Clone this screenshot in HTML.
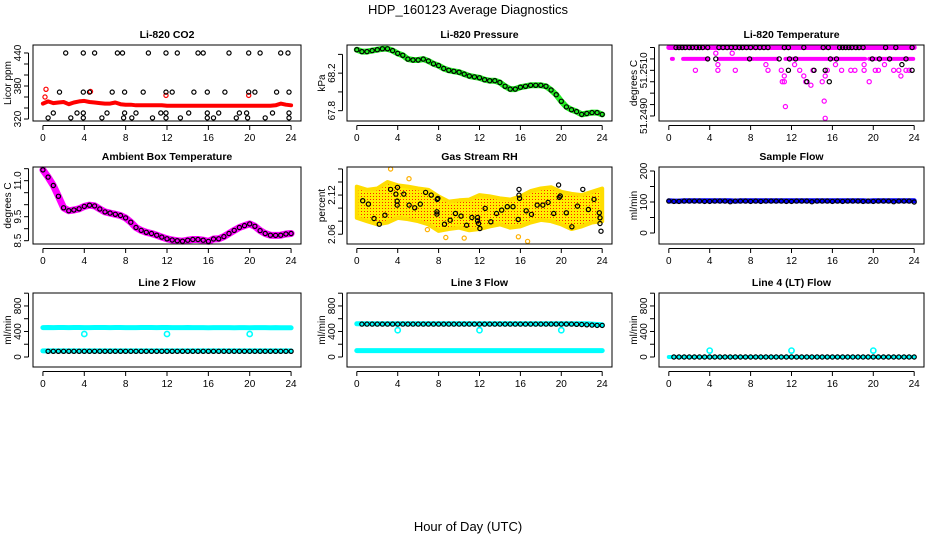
<!DOCTYPE html>
<html><head><meta charset="utf-8"><title>HDP_160123 Average Diagnostics</title>
<style>
html,body{margin:0;padding:0;background:#fff;}
svg{display:block;font-family:"Liberation Sans",Arial,sans-serif;}
</style></head>
<body>
<svg id="chart" width="936" height="540" viewBox="0 0 936 540" xmlns="http://www.w3.org/2000/svg">
<defs>
<pattern id="rhpat" width="3" height="3" patternUnits="userSpaceOnUse">
<rect width="3" height="3" fill="#ffee00"/><rect x="1" y="1" width="1" height="1" fill="#ff2000"/>
</pattern>
</defs>
<text x="468" y="14" text-anchor="middle" font-size="13">HDP_160123  Average Diagnostics</text>
<text x="468" y="531" text-anchor="middle" font-size="13">Hour of Day (UTC)</text>
</svg>
<script>
const hours49 = [0,0.5,1,1.5,2,2.5,3,3.5,4,4.5,5,5.5,6,6.5,7,7.5,8,8.5,9,9.5,10,10.5,11,11.5,12,12.5,13,13.5,14,14.5,15,15.5,16,16.5,17,17.5,18,18.5,19,19.5,20,20.5,21,21.5,22,22.5,23,23.5,24];
const hours25 = [0,1,2,3,4,5,6,7,8,9,10,11,12,13,14,15,16,17,18,19,20,21,22,23,24];
const xTicks = [0,4,8,12,16,20,24];

// CO2
const co2Red = [348,352,349,350,351,347,350,352,353,351,350,349,348,348,350,347,346,346,345,345,345,345,345,345,344,344,344,344,344,344,344,344,344,344,344,344,344,344,344,344,344,344,344,344,344,345,348,346,345];
const co2RedOutH = [0.3,0.2,11.9,19.9,4.6];
const co2RedOutV = [374,360,363,363,370];
const co2BlackH = [2.2,3.9,5,7.2,7.7,10.2,11.9,13,15,15.5,18,19.9,21,23,23.7, 1.6,3.9,4.5,6.7,7.9,9.7,11.9,12.5,14.6,15.9,17.6,19.9,20.5,22.6,23.8, 1,3.3,3.9,6.2,7.9,9,11.4,11.9,14.1,15.9,17,19,19.7,22.2,23.8, 0.5,2.7,3.9,5.7,7.8,8.6,10.6,11.9,13.3,15.9,16.5,18.7,19.8,21.5,23.8];
const co2BlackV = [440,440,440,440,440,440,440,440,440,440,440,440,440,440,440, 369,369,369,369,369,369,369,369,369,369,369,369,369,369,369, 331,331,331,331,331,331,331,331,331,331,331,331,331,331,331, 322,322,322,322,322,322,322,322,322,322,322,322,322,322,322];

// Pressure
const pressure = [68.45,68.43,68.43,68.44,68.45,68.46,68.46,68.44,68.41,68.39,68.35,68.34,68.34,68.35,68.33,68.30,68.28,68.25,68.23,68.22,68.21,68.19,68.17,68.16,68.15,68.13,68.12,68.12,68.10,68.06,68.03,68.03,68.05,68.06,68.07,68.07,68.07,68.06,68.02,67.97,67.90,67.84,67.81,67.79,67.76,67.77,67.78,67.78,67.76];

// Li-820 temperature
const tempBandTop = 51.2520;
const tempBandMid = 51.2515;
const tempMidSegStart = [0.3,1.4,4.9,8.5,11.4,15.8,19.6];
const tempMidSegEnd = [0.4,3.8,8.3,10.6,15.5,19.2,23.9];
const tempMagH = [4.6,6.2,4.8,4.8,2.6,6.5,9.7,9.5,11,11.3,11.1,11.3,11.4,12.3,12.8,13.2,13.4,13.9,14.1,15,15.2,15.3,15.3,15.5,16.3,16.9,17.8,18.2,19.1,19.1,19.6,20.2,20.5,21.1,22,22.5,22.7,23.2,23.5];
const tempMagV = [51.25175,51.25175,51.25125,51.2510,51.2510,51.2510,51.2510,51.25125,51.2510,51.25075,51.2505,51.2505,51.24941,51.25125,51.2510,51.25075,51.2505,51.25035,51.2510,51.2505,51.24965,51.2489,51.25075,51.2510,51.25125,51.2510,51.2510,51.2510,51.2510,51.25125,51.2505,51.2510,51.2510,51.25125,51.2510,51.2510,51.25075,51.2510,51.2510];
const tempBlackH = [0.7,1,1.3,1.6,2,2.3,2.7,3,3.3,3.8,4.9,5.3,5.7,6.1,6.5,6.9,7.2,7.6,8,8.5,8.9,9.3,9.7,11.3,11.7,13.2,15.1,15.6,16.7,17,17.3,17.6,17.9,18.3,18.6,19,21.2,22.2,23.8, 3.8,4.6,7.9,10.8,11.8,12.4,15.8,16.4,19.9,20.6,21.6,23.2, 11.7,14.2,15.3,23.8, 13.5,15.7,22.8];
const tempBlackV = [51.2520,51.2520,51.2520,51.2520,51.2520,51.2520,51.2520,51.2520,51.2520,51.2520,51.2520,51.2520,51.2520,51.2520,51.2520,51.2520,51.2520,51.2520,51.2520,51.2520,51.2520,51.2520,51.2520,51.2520,51.2520,51.2520,51.2520,51.2520,51.2520,51.2520,51.2520,51.2520,51.2520,51.2520,51.2520,51.2520,51.2520,51.2520,51.2520, 51.2515,51.2515,51.2515,51.2515,51.2515,51.2515,51.2515,51.2515,51.2515,51.2515,51.2515,51.2515, 51.2510,51.2510,51.2510,51.2510, 51.2505,51.2505,51.25125];

// Ambient box temperature
const ambient = [11.45,11.15,10.8,10.35,9.87,9.75,9.78,9.83,9.93,9.98,9.95,9.82,9.7,9.65,9.6,9.55,9.45,9.27,9.05,8.93,8.85,8.8,8.73,8.65,8.58,8.53,8.5,8.48,8.52,8.55,8.55,8.52,8.47,8.57,8.58,8.67,8.8,8.93,9.05,9.13,9.2,9.1,8.92,8.8,8.73,8.72,8.73,8.78,8.8];

// Gas stream RH
const rhHigh = [2.133,2.128,2.13,2.14,2.135,2.133,2.13,2.128,2.118,2.11,2.112,2.113,2.12,2.118,2.115,2.113,2.118,2.126,2.13,2.132,2.125,2.122,2.12,2.125,2.13];
const rhLow = [2.085,2.08,2.075,2.078,2.085,2.083,2.08,2.075,2.065,2.068,2.07,2.066,2.068,2.072,2.075,2.07,2.072,2.078,2.082,2.08,2.075,2.068,2.072,2.078,2.08];
const rhOutH = [3.3,5.1,6.9,8.7,10.5,15.8,16.7];
const rhOutV = [2.16,2.145,2.067,2.055,2.054,2.056,2.049];
const rhBlackH = [0.58,1.13,1.68,2.2,2.75,3.3,3.82,3.98,3.95,3.95,4.6,5.11,5.66,6.21,6.73,7.28,7.93,7.86,7.83,7.83,8.58,9.13,9.64,10.19,10.74,11.26,11.81,11.81,11.91,12.04,12.56,13.11,13.66,14.17,14.72,15.28,15.79,15.86,15.86,15.92,16.57,17.09,17.64,18.19,18.71,19.26,19.74,19.81,19.9,20.49,21.04,21.59,22.1,22.65,23.2,23.72,23.79,23.79,23.88];
const rhBlackV = [2.1113,2.1062,2.0841,2.0754,2.0892,2.1287,2.1215,2.1318,2.1108,2.1046,2.1215,2.1046,2.1005,2.1062,2.1241,2.12,2.1149,2.1133,2.0944,2.0908,2.0754,2.0815,2.0918,2.0877,2.0738,2.0856,2.0856,2.0805,2.0764,2.0687,2.0995,2.079,2.0918,2.0969,2.1021,2.1021,2.0826,2.12,2.1287,2.1149,2.0959,2.0903,2.1046,2.1046,2.1087,2.0918,2.1354,2.1164,2.1185,2.0928,2.0713,2.1031,2.1287,2.0979,2.1133,2.0928,2.0851,2.0764,2.0646];

// Sample flow
const sampleBlue = [104,103,103,104,104,104,104,104,104,104,104,104,104,103,104,104,104,104,104,104,104,104,104,104,104,104,104,104,104,104,104,104,104,104,104,104,104,104,104,103,104,104,104,104,104,104,104,104,104];
const sampleBlack = [103,102,102,103,103,103,103,102,102,103,103,103,101,103,103,103,102,103,102,103,103,103,103,102,102,103,103,103,101,103,103,103,102,103,102,103,103,103,102,103,102,103,103,103,101,103,103,103,100];

// Line flows
const line2High = [460,462,461,463,462,461,463,462,460,461,462,463,462,461,463,462,461,460,461,462,463,462,461,463,462,461,460,461,462,461,460,461,459,460,461,460,460,459,460,460,459,460,461,460,459,460,458,459,458];
const line2Low = [95,95,95,95,95,95,95,95,95,95,95,95,95,95,95,95,95,95,95,95,95,95,95,95,95,95,95,95,95,95,95,95,95,95,95,95,95,95,95,95,95,95,95,95,95,95,95,95,95];
const line2Black = [90,90,90,90,90,90,90,90,90,90,90,90,90,90,90,90,90,90,90,90,90,90,90,90,90,90,90,90,90,90,90,90,90,90,90,90,90,90,90,90,90,90,90,90,90,90,90,90,90];
const line3Cyan = [100,100,100,100,100,100,100,100,100,100,100,100,100,100,100,100,100,100,100,100,100,100,100,100,100,100,100,100,100,100,100,100,100,100,100,100,100,100,100,100,100,100,100,100,100,100,100,100,100];
const line3High = [520,520,520,520,520,520,520,520,520,520,520,520,520,520,520,520,520,520,520,520,520,520,520,520,520,520,520,520,520,520,520,520,520,520,520,520,520,520,520,520,520,520,520,520,520,520,515,510,505];
const line3Black = [515,515,515,515,515,515,515,515,515,515,515,515,515,515,515,515,515,515,515,515,515,515,515,515,515,515,515,515,515,515,515,515,515,515,515,515,515,515,515,515,515,515,515,512,510,505,500,495,495];
const line4Cyan = [0,0,0,0,0,0,0,0,0,0,0,0,0,0,0,0,0,0,0,0,0,0,0,0,0,0,0,0,0,0,0,0,0,0,0,0,0,0,0,0,0,0,0,0,0,0,0,0,0];
const line4Black = [0,0,0,0,0,0,0,0,0,0,0,0,0,0,0,0,0,0,0,0,0,0,0,0,0,0,0,0,0,0,0,0,0,0,0,0,0,0,0,0,0,0,0,0,0,0,0,0,0];
const flowOutH = [4,12,20];
const line2Out = [360,360,360];
const line3Out = [420,420,420];
const line4Out = [100,100,100];

const NS = "http://www.w3.org/2000/svg";
const svg = document.getElementById('chart');
function mk(tag, attrs, parent){ const e=document.createElementNS(NS,tag); for(const k in attrs) e.setAttribute(k,attrs[k]); (parent||svg).appendChild(e); return e; }

const cols = [[33,301],[347,612],[659,924]];
const rows = [[45,121],[167,244],[293,367]];

function panel(name, ci, ri, title, ylab, ymin, ymax, yticks, ylabels, digits){
  const [x0,x1]=cols[ci], [y0,y1]=rows[ri];
  const g = mk('g',{});
  
  
  const X = h => x0 + (h+0.96)/25.92*(x1-x0);
  const Y = v => y1 - (v-ymin)/(ymax-ymin)*(y1-y0);
  const t = mk('text',{x:(x0+x1)/2,y:y0-7,'text-anchor':'middle','font-size':10.5,'font-weight':'bold'},g);
  t.textContent = title;
  
  
  const yl = mk('text',{x:0,y:0,'text-anchor':'middle','font-size':10,transform:`translate(${x0-22},${(y0+y1)/2}) rotate(-90)`},g);
  yl.textContent = ylab;
  
  
  const ax = mk('g',{stroke:'#000','stroke-width':1,fill:'none'},g);
  
  
  mk('line',{x1:X(0),x2:X(24),y1:y1+4.5,y2:y1+4.5},ax);
  xTicks.forEach(h=>{
    mk('line',{x1:X(h),x2:X(h),y1:y1+4.5,y2:y1+9},ax);
    const lt = mk('text',{x:X(h),y:y1+20,'text-anchor':'middle','font-size':10,stroke:'none',fill:'#000'},g);
    lt.textContent = h;
    
    
  });
  mk('line',{x1:x0-4.5,x2:x0-4.5,y1:Y(yticks[0]),y2:Y(yticks[yticks.length-1])},ax);
  yticks.forEach(v=>{ mk('line',{x1:x0-9,x2:x0-4.5,y1:Y(v),y2:Y(v)},ax); });
  ylabels.forEach(v=>{
    const lt = mk('text',{x:0,y:0,'text-anchor':'middle','font-size':10,transform:`translate(${x0-12},${Y(v)}) rotate(-90)`},g);
    lt.textContent = digits ? v.toFixed(digits) : String(v);
    
    
  });
  const clip = 'clip-'+name;
  const cp = mk('clipPath',{id:clip},g); mk('rect',{x:x0,y:y0-3,width:x1-x0,height:y1-y0+6},cp);
  const plot = mk('g',{'clip-path':`url(#${clip})`},g);
  
  
  const box = mk('rect',{x:x0,y:y0,width:x1-x0,height:y1-y0,fill:'none',stroke:'#000','stroke-width':1},g);
  
  
  return {X,Y,plot};
}
function band(p, hs, vs, color, w, name){
  const pts = hs.map((h,i)=>p.X(h).toFixed(1)+','+p.Y(vs[i]).toFixed(1)).join(' ');
  const e = mk('polyline',{points:pts,fill:'none',stroke:color,'stroke-width':w,'stroke-linejoin':'round','stroke-linecap':'round'},p.plot);
  
  
}
function circles(p, hs, vs, color, name, r, sw){
  const g = mk('g',{fill:'none',stroke:color,'stroke-width':sw||1.2},p.plot);
  
  
  hs.forEach((h,i)=>{
    const c = mk('circle',{cx:p.X(h).toFixed(1),cy:p.Y(vs[i]).toFixed(1),r:r||2.1},g);
    
    
  });
}

// Row 1
let p = panel('co2',0,0,'Li-820 CO2','Licor ppm',316.4,454.5,[320,340,360,380,400,420,440],[320,380,440],0);
band(p,hours49,co2Red,'#ff0000',4,'co2-red-band');
circles(p,co2RedOutH,co2RedOutV,'#ff0000','co2-red-outlier');
circles(p,co2BlackH,co2BlackV,'#000','co2-black-series');

p = panel('pressure',1,0,'Li-820 Pressure','kPa',67.69,68.50,[67.8,68.0,68.2,68.4],[67.8,68.2],1);
band(p,hours49,pressure,'#22ee22',6,'pressure-green-band');
circles(p,hours49,pressure,'#000','pressure-black-series');

p = panel('li820-temp',2,0,'Li-820 Temperature','degrees C',51.24878,51.25211,[51.2490,51.2495,51.2500,51.2505,51.2510,51.2515,51.2520],[51.2490,51.2510],4);
band(p,[0,24],[tempBandTop,tempBandTop],'#ff00ff',5,'temp-magenta-top-band');
tempMidSegStart.forEach((s,i)=>band(p,[s,tempMidSegEnd[i]],[tempBandMid,tempBandMid],'#ff00ff',4,'temp-magenta-mid-band'));
circles(p,tempMagH,tempMagV,'#ff00ff','temp-magenta-series');
circles(p,tempBlackH,tempBlackV,'#000','temp-black-series');

// Row 2
p = panel('ambient',0,1,'Ambient Box Temperature','degrees C',8.3625,11.57,[8.5,9.0,9.5,10.0,10.5,11.0,11.5],[8.5,9.5,11.0],1);
band(p,hours49,ambient,'#ff00ff',7,'ambient-magenta-band');
circles(p,hours49,ambient,'#000','ambient-black-series');

p = panel('rh',1,1,'Gas Stream RH','percent',2.045,2.163,[2.06,2.08,2.10,2.12,2.14,2.16],[2.06,2.12],2);
{
  const up = hours25.map((h,i)=>p.X(h).toFixed(1)+','+p.Y(rhHigh[i]).toFixed(1));
  const lo = hours25.map((h,i)=>p.X(h).toFixed(1)+','+p.Y(rhLow[i]).toFixed(1)).reverse();
  const a = mk('polygon',{points:up.concat(lo).join(' '),fill:'url(#rhpat)',stroke:'#ffdd00','stroke-width':4,'stroke-linejoin':'round'},p.plot);
  
  
}
circles(p,rhOutH,rhOutV,'#ffb000','rh-yellow-outlier');
circles(p,rhBlackH,rhBlackV,'#000','rh-black-series');

p = panel('sample-flow',2,1,'Sample Flow','ml/min',-35.5,212.9,[0,50,100,150,200],[0,100,200],0);
band(p,hours49,sampleBlue,'#0000ff',5,'sample-blue-band');
circles(p,hours49,sampleBlack,'#000','sample-black-series');

// Row 3
p = panel('line2',0,2,'Line 2 Flow','ml/min',-156.7,1003,[0,200,400,600,800,1000],[0,400,800],0);
band(p,hours49,line2High,'#00ffff',5,'line2-cyan-high-band');
band(p,hours49,line2Low,'#00ffff',5,'line2-cyan-low-band');
circles(p,flowOutH,line2Out,'#00ffff','line2-cyan-outlier',2.6,1.6);
circles(p,hours49.slice(1),line2Black.slice(1),'#000','line2-black-series');

p = panel('line3',1,2,'Line 3 Flow','ml/min',-156.7,1003,[0,200,400,600,800,1000],[0,400,800],0);
band(p,hours49,line3Cyan,'#00ffff',5,'line3-cyan-low-band');
band(p,hours49,line3High,'#00ffff',5,'line3-cyan-high-band');
circles(p,flowOutH,line3Out,'#00ffff','line3-cyan-outlier',2.6,1.6);
circles(p,hours49.slice(1),line3Black.slice(1),'#000','line3-black-series');

p = panel('line4',2,2,'Line 4 (LT) Flow','ml/min',-156.7,1003,[0,200,400,600,800,1000],[0,400,800],0);
band(p,hours49,line4Cyan,'#00ffff',4,'line4-cyan-band');
circles(p,flowOutH,line4Out,'#00ffff','line4-cyan-outlier',2.6,1.6);
circles(p,hours49.slice(1),line4Black.slice(1),'#000','line4-black-series');
</script>
</body></html>
